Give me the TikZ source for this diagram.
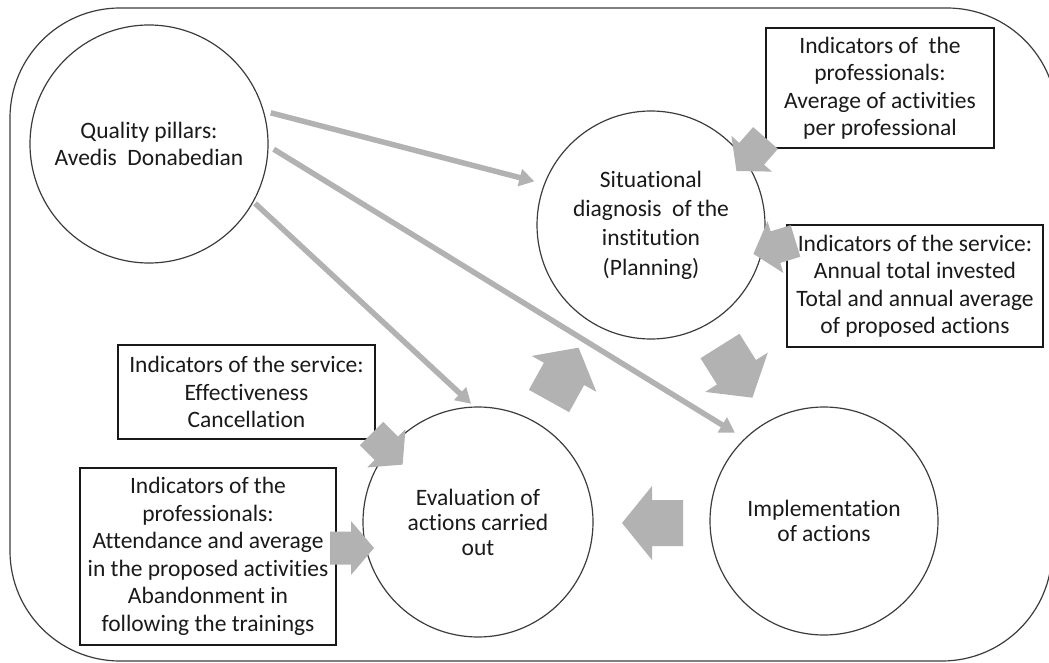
\documentclass[tikz,border=0pt]{standalone}
\usepackage{fontspec}
\setmainfont{Carlito}[Ligatures={NoCommon,NoContextual}]
\usetikzlibrary{arrows.meta}
\definecolor{arrgray}{HTML}{B2B2B2}
\definecolor{linegray}{HTML}{3C3C3C}
\definecolor{txt}{HTML}{1A1A1A}
% back-centre x, y, angle, body length, body width, head width, head length
\newcommand{\blockarrow}[7]{%
  \fill[arrgray,shift={(#1,#2)},rotate=#3]
    (0,-#5/2) -- (#4,-#5/2) -- (#4,-#6/2) -- ({#4+#7},0) -- (#4,#6/2) -- (#4,#5/2) -- (0,#5/2) -- cycle;}
\newcommand{\bigarrow}[3]{\blockarrow{#1}{#2}{#3}{31}{46}{74}{30}}
\newcommand{\smallarrow}[3]{\blockarrow{#1}{#2}{#3}{21}{33}{54}{23}}
\tikzset{
  circ/.style={circle, draw=linegray, line width=1.2pt, fill=white, inner sep=0pt,
    align=center, text=txt},
  ibox/.style={rectangle, draw=black!90, line width=1.2pt, fill=white, inner sep=0pt,
    align=center, text=txt, font=\fontsize{23.5}{27.5}\selectfont},
  thinarrow/.style={draw=arrgray, line width=5.5pt, -{Triangle[length=15pt,width=17pt]}},
  frame/.style={draw=linegray, line width=1.2pt}
}
\begin{document}
\begin{tikzpicture}[x=1pt,y=-1pt]
\useasboundingbox (0,0) rectangle (1049,663);
\clip (0,0) rectangle (1049,663);
% outer frame
\draw[frame] (120,8) -- (947,8) arc[start angle=90,end angle=0,radius=110pt]
  -- (1052,551) arc[start angle=0,end angle=-90,radius=110pt]
  -- (120,661) arc[start angle=270,end angle=180,radius=110pt]
  -- (10,118) arc[start angle=180,end angle=90,radius=110pt] -- cycle;
% circles
\node[circ, minimum size=238pt, font=\fontsize{23.5}{27}\selectfont] (q) at (149,144)
  {Quality pillars:\\Avedis~ Donabedian};
\node[circ, minimum size=228pt, font=\fontsize{23.5}{29.3}\selectfont] (s) at (651,225)
  {Situational\\diagnosis~ of the\\institution\\(Planning)};
\node[circ, minimum size=230pt, font=\fontsize{23.5}{25}\selectfont] (e) at (478,522)
  {Evaluation of\\actions carried\\out};
\node[circ, minimum size=228pt, font=\fontsize{23.5}{25}\selectfont] (i) at (824,521)
  {Implementation\\of actions};
% boxes
\node[ibox, minimum width=228pt, minimum height=120pt] (b1) at (880,88)
  {Indicators of~ the\\professionals:\\Average of activities\\per professional};
\node[ibox, minimum width=256pt, minimum height=122pt] (b2) at (915,286)
  {Indicators of the service:\\Annual total invested\\Total and annual average\\of proposed actions};
\node[ibox, minimum width=257pt, minimum height=94pt] (b3) at (246.5,392)
  {Indicators of the service:\\Effectiveness\\Cancellation};
\node[ibox, minimum width=256pt, minimum height=177pt] (b4) at (208,556.5)
  {Indicators of the\\professionals:\\Attendance and average\\in the proposed activities\\Abandonment in\\following the trainings};
% thin arrows
\draw[thinarrow, shorten <=7pt, shorten >=10pt] (q.16.6) -- (s.159.2);
\draw[thinarrow, shorten <=6pt, shorten >=11pt] (q.-1.8) -- (i.134.7);
\draw[thinarrow, shorten <=2pt, shorten >=4pt] (q.-29.1) -- (e.92.9);
% block arrows (cycle)
\bigarrow{683}{523}{180}
\bigarrow{549}{401}{61}
\bigarrow{720}{346}{-57.9}
% block arrows (indicators)
\smallarrow{765.5}{138}{228.7}
\smallarrow{795.5}{241}{197}
\smallarrow{371.5}{433.5}{-45}
\smallarrow{330}{548}{0}
\end{tikzpicture}
\end{document}
